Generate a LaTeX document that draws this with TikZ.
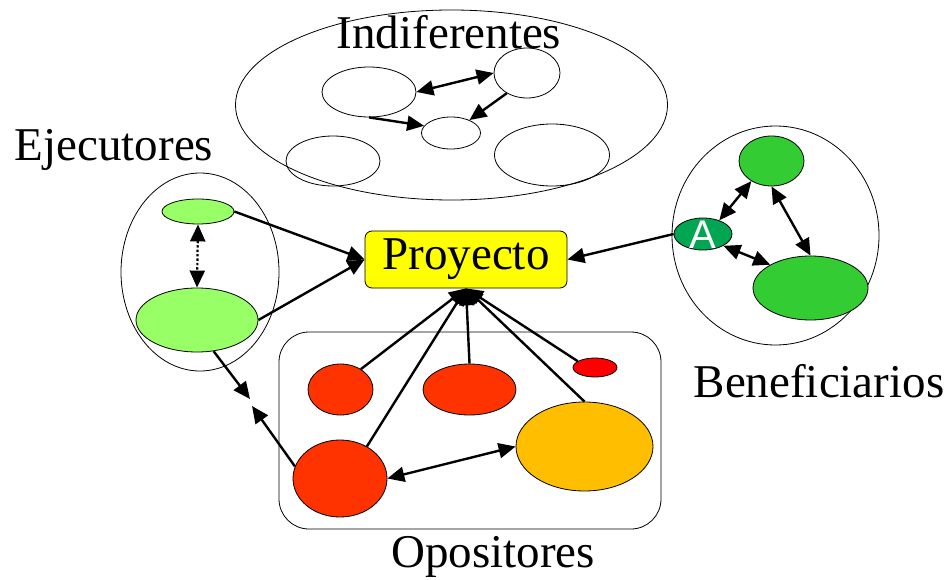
\documentclass[tikz,border=0pt]{standalone}
\usepackage{fontspec}
\setmainfont{Liberation Serif}
\newfontfamily\sansA{Liberation Sans}
\usetikzlibrary{shapes.geometric,arrows.meta}
\definecolor{lgreen}{HTML}{99FF66}
\definecolor{mgreen}{HTML}{33CC33}
\definecolor{dgreen}{HTML}{00A651}
\definecolor{ored}{HTML}{FF3300}
\definecolor{pred}{HTML}{FF0000}
\definecolor{orng}{HTML}{FFBF00}
\definecolor{ylw}{HTML}{FFFF00}
\begin{document}
\begin{tikzpicture}[x=1pt,y=-1pt,
  ell/.style={ellipse,draw,inner sep=0pt,line width=0.8pt},
  lbl/.style={font=\fontsize{47}{50}\selectfont,inner sep=0pt},
  arr/.style={line width=2.4pt,-{Triangle[length=17pt,width=15pt]}},
  darr/.style={line width=2.4pt,{Triangle[length=17pt,width=15pt]}-{Triangle[length=17pt,width=15pt]}}]
\useasboundingbox (0,0) rectangle (949,580);
% Indiferentes
\node[ell,minimum width=432pt,minimum height=190pt] (ind) at (451.5,105) {};
\node[lbl] (tind) at (449,32) {Indiferentes};
\node[ell,minimum width=94pt,minimum height=50pt] (e1) at (369,92) {};
\node[ell,minimum width=66pt,minimum height=50pt] (e2) at (527,73) {};
\node[ell,minimum width=59pt,minimum height=32pt] (e3) at (451,133) {};
\node[ell,minimum width=94pt,minimum height=50pt] (e4) at (333,161) {};
\node[ell,minimum width=115pt,minimum height=62pt] (e5) at (552,155) {};
\draw[darr] (e1.east) -- (e2.west);
\draw[arr] (e2.225) -- (e3.35);
\draw[arr] (e1.south) -- (e3.165);
% Proyecto
\node[draw,fill=ylw,rounded corners=7pt,minimum width=202pt,minimum height=57pt,line width=0.8pt,inner sep=0pt,font=\fontsize{47}{50}\selectfont] (proj) at (466,259.5) {Proyecto};
% Ejecutores
\node[lbl] (teje) at (114,150) {Ejecutores};
\node[ell,minimum width=158pt,minimum height=198pt] (eje) at (200,272) {};
\node[ell,fill=lgreen,minimum width=72pt,minimum height=25pt] (gs) at (198,211.5) {};
\node[ell,fill=lgreen,minimum width=122pt,minimum height=64pt] (gb) at (197,320) {};
\draw[darr,dotted,line width=2.2pt] (gs.south) -- (gb.north);
\draw[arr] (gs.east) -- (proj.west);
\draw[arr] (gb.east) -- (proj.west);
% Beneficiarios
\node[lbl] (tben) at (819,381) {Beneficiarios};
\node[ell,minimum width=207pt,minimum height=219pt] (ben) at (775.5,235.5) {};
\node[ell,fill=mgreen,minimum width=65pt,minimum height=50pt] (bt) at (771.5,161) {};
\node[ell,fill=dgreen,minimum width=58pt,minimum height=32pt] (ba) at (703,234) {};
\node[font=\sansA\fontsize{40}{42}\selectfont,text=white,inner sep=0pt] (ta) at (703,235) {A};
\node[ell,fill=mgreen,minimum width=115pt,minimum height=64pt] (bb) at (810.5,288) {};
\draw[darr] (bt.225) -- (ba.40);
\draw[darr] (bt.south) -- (bb.north);
\draw[darr] (ba.-30) -- (bb.150);
\draw[arr] (ba.west) -- (proj.east);
% Opositores
\node[draw,rounded corners=30pt,minimum width=382pt,minimum height=197pt,line width=0.8pt] (opo) at (470,430.5) {};
\node[lbl] (topo) at (493,557) {Opositores};
\node[ell,fill=ored,minimum width=65pt,minimum height=51pt] (r1) at (340.5,389.5) {};
\node[ell,fill=ored,minimum width=93pt,minimum height=51pt] (r2) at (469.5,389.5) {};
\node[ell,fill=pred,minimum width=44pt,minimum height=19pt] (r3) at (595,367.5) {};
\node[ell,fill=ored,minimum width=94pt,minimum height=77pt] (r4) at (340,478.5) {};
\node[ell,fill=orng,minimum width=137pt,minimum height=89pt] (or) at (584.5,446.5) {};
\draw[arr] (r1.45) -- (proj.south);
\draw[arr] (r4.50) -- (proj.south);
\draw[arr] (r2.north) -- (proj.south);
\draw[arr] (or.north) -- (proj.south);
\draw[arr] (r3.160) -- (proj.south);
\draw[darr] (r4.east) -- (or.west);
% meeting arrows
\coordinate (m1) at (250,399);
\coordinate (m2) at (252,406);
\draw[arr] (gb.-62) -- (m1);
\draw[arr] (r4.165) -- (m2);
\end{tikzpicture}
\end{document}
